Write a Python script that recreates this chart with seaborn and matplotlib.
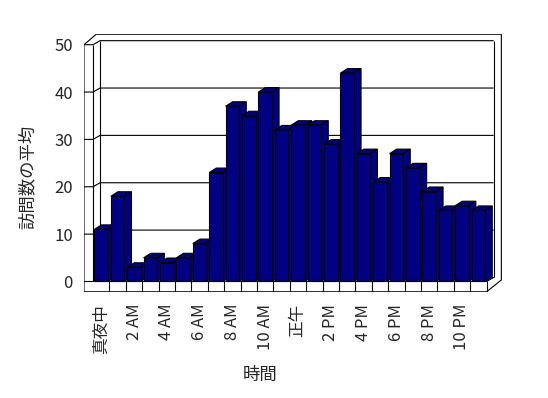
import matplotlib
matplotlib.use("Agg")
import matplotlib.pyplot as plt
from matplotlib.patches import Polygon
import pandas as pd
import seaborn as sns

# ---- data ----
hours = ["真夜中", "1 AM", "2 AM", "3 AM", "4 AM", "5 AM", "6 AM", "7 AM",
         "8 AM", "9 AM", "10 AM", "11 AM", "正午", "1 PM", "2 PM", "3 PM",
         "4 PM", "5 PM", "6 PM", "7 PM", "8 PM", "9 PM", "10 PM", "11 PM"]
visits = [11, 18, 3, 5, 4, 5, 8, 23, 37, 35, 40, 32,
          33, 33, 29, 44, 27, 21, 27, 24, 19, 15, 16, 15]
shown_tick_labels = hours[::2]
y_ticks = [0, 10, 20, 30, 40, 50]
x_title = "時間"
y_title = "訪問数の平均"

# ---- style ----
sns.set_style("white")
plt.rcParams['font.family'] = ['Noto Sans CJK JP', 'DejaVu Sans']

NAVY = "#000080"
LW = 0.8
DX, DY = 0.43, 0.95         # depth offset of the 3-D effect (data units)
X_LO, X_HI = -1.05, 24.44
Y_LO, Y_HI = -2.22, 52.26
WALL_IN = -0.5              # inner edge of left wall = start of first slot
N = len(hours)

fig = plt.figure(figsize=(5.48, 3.98), dpi=100)
fig.patch.set_facecolor("white")
ax = fig.add_axes([84 / 548, 1 - 292 / 398, 418 / 548, 258 / 398])

df = pd.DataFrame({"hour": hours, "visits": visits})
sns.barplot(data=df, x="hour", y="visits", order=hours, color=NAVY,
            saturation=1, width=0.83, edgecolor="black", linewidth=LW, ax=ax)

# 3-D faces on every bar
for i, p in enumerate(list(ax.patches)):
    x0, w, h = p.get_x(), p.get_width(), p.get_height()
    z = 3 + 0.01 * i
    p.set_zorder(z + 0.005)
    top = Polygon([(x0, h), (x0 + w, h), (x0 + w + DX, h + DY), (x0 + DX, h + DY)],
                  closed=True, facecolor=NAVY, edgecolor="black", lw=LW, zorder=z)
    side = Polygon([(x0 + w, 0), (x0 + w + DX, DY), (x0 + w + DX, h + DY), (x0 + w, h)],
                   closed=True, facecolor=NAVY, edgecolor="black", lw=LW, zorder=z)
    ax.add_patch(top)
    ax.add_patch(side)

R = WALL_IN + N      # right edge of floor front
lk = dict(color="black", lw=LW, solid_capstyle="butt")
WDY = 0.85           # wall depth rise

# walls: gridlines on left wall + back wall
top_v = y_ticks[-1]
for v in y_ticks[1:]:
    ax.plot([X_LO, WALL_IN, WALL_IN + DX, R + DX], [v, v, v + WDY, v + WDY],
            zorder=1, **lk)
# verticals of wall structure
ax.plot([WALL_IN, WALL_IN], [0, top_v], zorder=1, **lk)
ax.plot([WALL_IN + DX, WALL_IN + DX], [WDY, top_v + WDY], zorder=1, **lk)
ax.plot([R + DX, R + DX], [WDY, top_v + WDY], zorder=1, **lk)
# floor back line + floor front top
ax.plot([WALL_IN + DX, R + DX], [WDY, WDY], zorder=1, **lk)
ax.plot([X_LO, R, R + DX], [0, 0, WDY], zorder=2, **lk)
# outer frame
OX = X_HI - 0.04
outer_x = [X_LO, X_LO + 0.75, OX, OX, R, X_LO, X_LO]
outer_y = [top_v, Y_HI - 0.05, Y_HI - 0.05, 0.32, Y_LO + 0.05, Y_LO + 0.05, top_v]
ax.plot(outer_x, outer_y, zorder=2, **lk)
# floor front face category dividers
for k in range(1, N + 1):
    ax.plot([WALL_IN + k, WALL_IN + k], [Y_LO + 0.05, 0], zorder=2, **lk)

ax.set_xlim(X_LO, X_HI)
ax.set_ylim(Y_LO, Y_HI)
for s in ax.spines.values():
    s.set_visible(False)

ax.set_yticks(y_ticks)
ax.set_yticklabels([str(v) for v in y_ticks], fontsize=12)
ax.set_xticks(range(0, N, 2))
ax.set_xticklabels(shown_tick_labels, rotation=90, fontsize=12)
ax.tick_params(axis="y", length=0, pad=8)
ax.tick_params(axis="x", length=0, pad=8.6)
for t in ax.get_xticklabels():
    t.set_va("top")

ax.set_xlabel(x_title, fontsize=12.5)
ax.set_ylabel(y_title, fontsize=12.5)
ax.xaxis.label.set_va("center")
ax.yaxis.label.set_va("center")
ax.xaxis.set_label_coords((260 - 84) / 418, (292 - 375) / 258)
ax.yaxis.set_label_coords((28 - 84) / 418, (292 - 176.5) / 258)

fig.savefig("out.png", dpi=100, facecolor="white")
